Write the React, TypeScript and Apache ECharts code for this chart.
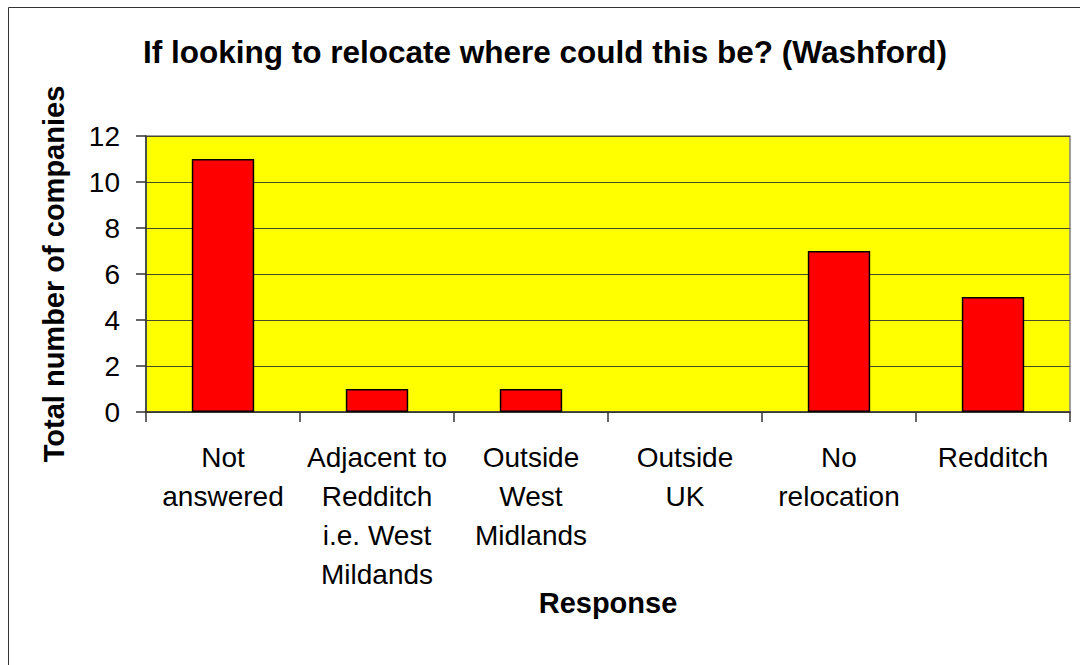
import React, { useEffect, useRef } from "react";
import * as echarts from "echarts";

const categories: string[] = [
  "Not\nanswered",
  "Adjacent to\nRedditch\ni.e. West\nMildands",
  "Outside\nWest\nMidlands",
  "Outside\nUK",
  "No\nrelocation",
  "Redditch",
];
const companies: number[] = [11, 1, 1, 0, 7, 5];
const yTicks = { min: 0, max: 12, interval: 2 };

const FONT = "'Liberation Sans', Arial, sans-serif";

export default function App() {
  const ref = useRef<HTMLDivElement>(null);
  useEffect(() => {
    document.body.style.margin = "0";
    const chart = echarts.init(ref.current!, null, { renderer: "svg" });
    chart.setOption({
      animation: false,
      backgroundColor: "#ffffff",
      textStyle: { fontFamily: FONT },
      title: {
        text: "If looking to relocate where could this be? (Washford)",
        left: 138,
        top: 31,
        textStyle: { fontFamily: FONT, fontSize: 31.5, fontWeight: "bold", color: "#000" },
      },
      graphic: [
        {
          type: "rect",
          shape: { x: 8.5, y: 7.5, width: 1100, height: 700 },
          style: { fill: "none", stroke: "#333", lineWidth: 1 },
          silent: true,
          z: -1,
        },
      ],
      grid: {
        left: 146,
        right: 10,
        top: 136,
        bottom: 253,
        show: true,
        backgroundColor: "#FFFF00",
        borderColor: "#808080",
        borderWidth: 1.5,
      },
      xAxis: {
        type: "category",
        data: categories,
        name: "Response",
        nameLocation: "middle",
        nameGap: 176,
        nameMoveOverlap: false,
        nameTextStyle: { fontFamily: FONT, fontSize: 29, fontWeight: "bold", color: "#000" },
        axisLine: { show: true, lineStyle: { color: "#333", width: 1.5 } },
        axisTick: { show: true, length: 10, alignWithLabel: false, lineStyle: { color: "#333", width: 1.5 } },
        axisLabel: {
          interval: 0,
          margin: 26,
          fontFamily: FONT,
          fontSize: 28,
          lineHeight: 39,
          color: "#000",
          align: "center",
        },
      },
      yAxis: {
        type: "value",
        min: yTicks.min,
        max: yTicks.max,
        interval: yTicks.interval,
        name: "Total number of companies",
        nameLocation: "middle",
        nameRotate: 90,
        nameGap: 78,
        nameMoveOverlap: false,
        nameTextStyle: { fontFamily: FONT, fontSize: 29, fontWeight: "bold", color: "#000" },
        axisLine: { show: true, lineStyle: { color: "#333", width: 1.5 } },
        axisTick: { show: true, length: 10, lineStyle: { color: "#333", width: 1.5 } },
        axisLabel: { margin: 26, fontFamily: FONT, fontSize: 28, color: "#000" },
        splitLine: { show: true, lineStyle: { color: "#4a4a2a", width: 1 } },
      },
      series: [
        {
          type: "bar",
          data: companies.map((v) =>
            v === 0 ? { value: v, itemStyle: { borderWidth: 0, opacity: 0 } } : v
          ),
          barWidth: "40.5%",
          itemStyle: { color: "#FF0000", borderColor: "#000", borderWidth: 1.5 },
        },
      ],
    });
    return () => chart.dispose();
  }, []);
  return <div ref={ref} style={{ width: 1080, height: 665 }} />;
}
